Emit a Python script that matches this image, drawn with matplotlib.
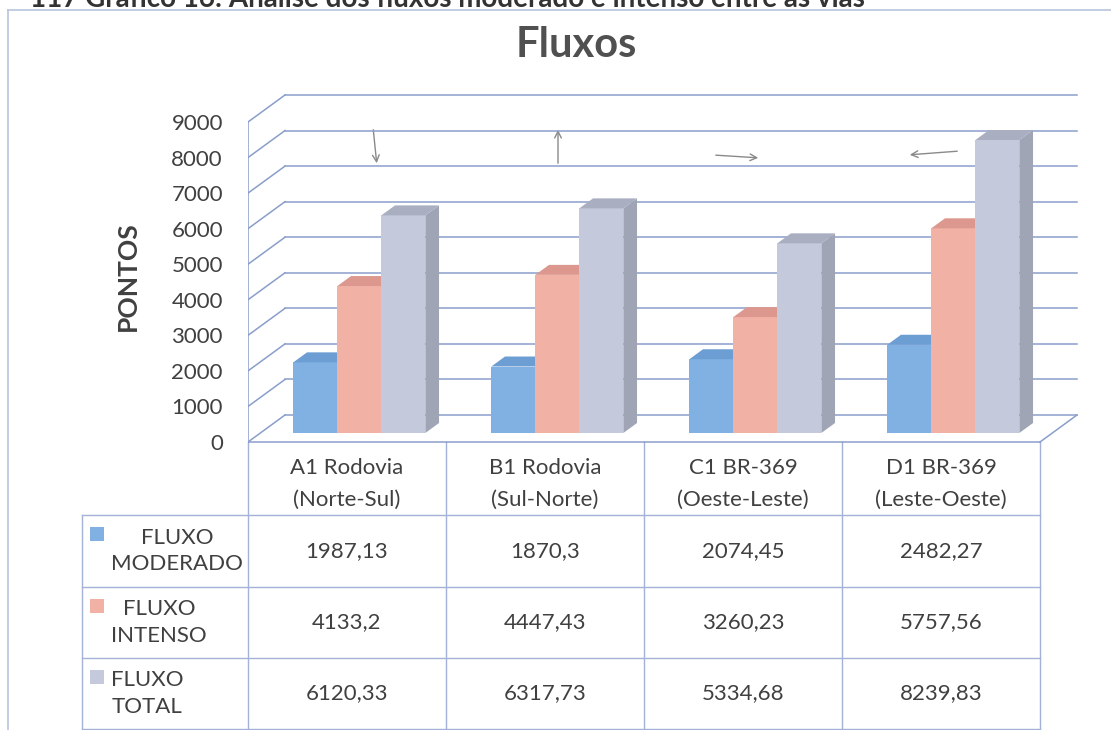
import matplotlib
matplotlib.use("Agg")
import matplotlib.pyplot as plt
from matplotlib.patches import Polygon

# ---------------- data ----------------
categories = ["A1 Rodovia\n(Norte-Sul)", "B1 Rodovia\n(Sul-Norte)",
              "C1 BR-369\n(Oeste-Leste)", "D1 BR-369\n(Leste-Oeste)"]
series_names = ["FLUXO\nMODERADO", "FLUXO\nINTENSO", "FLUXO\nTOTAL"]
fluxo_moderado = [1987.13, 1870.3, 2074.45, 2482.27]
fluxo_intenso = [4133.2, 4447.43, 3260.23, 5757.56]
fluxo_total = [6120.33, 6317.73, 5334.68, 8239.83]
y_ticks = [0, 1000, 2000, 3000, 4000, 5000, 6000, 7000, 8000, 9000]
title = "Fluxos"
y_label = "PONTOS"
caption = "117 Gráfico 16: Análise dos fluxos moderado e intenso entre as vias"

series = [fluxo_moderado, fluxo_intenso, fluxo_total]

# ---------------- style ----------------
plt.rcParams["font.family"] = ["Lato", "DejaVu Sans"]
TXT = "#404040"
GRID = "#8A9ECB"
TBL = "#A3B2D6"
front_c = ["#80B1E2", "#F1B1A5", "#C5C9DC"]
top_c = ["#6C9DD3", "#DC988E", "#A9AEC1"]
side_c = ["#5F8FC4", "#CF8C82", "#A0A5B5"]
FS = 16

W, H = 1111, 730
fig = plt.figure(figsize=(W / 100, H / 100), dpi=100)
fig.patch.set_facecolor("white")

# layout (pixels)
X0 = 248          # front y-axis
CW = 198          # category width
Y0 = 442          # value 0 on front plane
K = 320 / 9000    # pixels per unit
AX_L, AX_R, AX_T, AX_B = 248, 1082, 85, 460
DX = 37 / CW      # depth offset (category units)
DY = 27 / K       # depth offset (value units)

# overlay in pixel coordinates
ov = fig.add_axes([0, 0, 1, 1], zorder=0)
ov.set_xlim(0, W)
ov.set_ylim(H, 0)
ov.axis("off")
ov.patch.set_alpha(0)

ax = fig.add_axes([AX_L / W, (H - AX_B) / H, (AX_R - AX_L) / W, (AX_B - AX_T) / H], zorder=1)
ax.patch.set_visible(False)
ax.set_xlim(0, (AX_R - AX_L) / CW)
ax.set_ylim((Y0 - AX_B) / K, (Y0 - AX_T) / K)
for s in ax.spines.values():
    s.set_visible(False)
ax.set_xticks([])
ax.set_yticks(y_ticks)
ax.set_yticklabels([str(t) for t in y_ticks])
ax.tick_params(axis="y", length=0, pad=18, labelsize=FS, labelcolor=TXT)

ncat = len(categories)
# walls / grid
for v in y_ticks:
    ax.plot([0, DX], [v, v + DY], color=GRID, lw=1.1, zorder=1)
    ax.plot([DX, ncat + DX], [v + DY, v + DY], color=GRID, lw=1.1, zorder=1)
ax.plot([0, 0], [0, y_ticks[-1]], color=GRID, lw=1.1, zorder=1)
ax.plot([0, ncat], [0, 0], color=GRID, lw=1.1, zorder=1)
ax.plot([ncat, ncat + DX], [0, DY], color=GRID, lw=1.1, zorder=1)

# bars
w = 2 / 9
f0 = 1 / 3
fd = 0.37
ddx, ddy = DX * fd, DY * fd
z = 3.0
for i in range(ncat):
    for j, vals in enumerate(series):
        x = i + 0.5 - 1.5 * w + j * w + DX * f0
        b = DY * f0
        top = b + vals[i]
        ax.bar(x, vals[i], bottom=b, width=w, align="edge", color=front_c[j],
               linewidth=0, zorder=z)
        ax.add_patch(Polygon([(x + w, b), (x + w + ddx, b + ddy), (x + w + ddx, top + ddy), (x + w, top)],
                             closed=True, facecolor=side_c[j], edgecolor="none", zorder=z))
        ax.add_patch(Polygon([(x, top), (x + w, top), (x + w + ddx, top + ddy), (x + ddx, top + ddy)],
                             closed=True, facecolor=top_c[j], edgecolor="none", zorder=z))
        z += 0.1

# ---------------- frame, title, caption ----------------
ov.plot([8, 8], [10, H], color="#B9C5DE", lw=1.2)
ov.plot([8, W], [10, 10], color="#B9C5DE", lw=1.2)
ov.text(30, 7, caption, ha="left", va="baseline", fontsize=20, fontweight="bold", color="#333333")
ov.text(576, 57, title, ha="center", va="baseline", fontsize=30, fontweight="bold", color="#505050")
ov.text(128, 276, y_label, rotation=90, ha="center", va="center", fontsize=19,
        fontweight="bold", color=TXT)

# ---------------- data table ----------------
col_x = [X0 + CW * k for k in range(ncat + 1)]
row_y = [515, 587, 658, 729]
for cx in col_x:
    ov.plot([cx, cx], [Y0, H], color=TBL, lw=1)
ov.plot([82, 82], [row_y[0], H], color=TBL, lw=1)
for ry in row_y:
    ov.plot([82, col_x[-1]], [ry, ry], color=TBL, lw=1)

for i, cat in enumerate(categories):
    cx = (col_x[i] + col_x[i + 1]) / 2
    l1, l2 = cat.split("\n")
    ov.text(cx, 468, l1, ha="center", va="center", fontsize=FS, color=TXT)
    ov.text(cx, 500, l2, ha="center", va="center", fontsize=FS, color=TXT)

for j, vals in enumerate(series):
    yc = (row_y[j] + row_y[j + 1]) / 2
    ov.add_patch(plt.Rectangle((90, row_y[j] + 12), 14, 14, facecolor=front_c[j], edgecolor="none"))
    ov.text(111, yc, series_names[j], ha="left", va="center", multialignment="center",
            fontsize=FS, color=TXT, linespacing=1.4)
    for i in range(ncat):
        cx = (col_x[i] + col_x[i + 1]) / 2
        ov.text(cx, yc, str(vals[i]).replace(".", ","), ha="center", va="center",
                fontsize=FS, color=TXT)

# ---------------- pencil marks ----------------
pen = dict(arrowstyle="->", color="#8A8A8A", lw=1.0, mutation_scale=12)
ov.annotate("", xy=(377, 166), xytext=(373, 127), arrowprops=pen)
ov.annotate("", xy=(558, 127), xytext=(558, 166), arrowprops=pen)
ov.annotate("", xy=(761, 158), xytext=(713, 155), arrowprops=pen)
ov.annotate("", xy=(907, 155), xytext=(960, 151), arrowprops=pen)

fig.savefig("out.png", dpi=100, facecolor="white")
